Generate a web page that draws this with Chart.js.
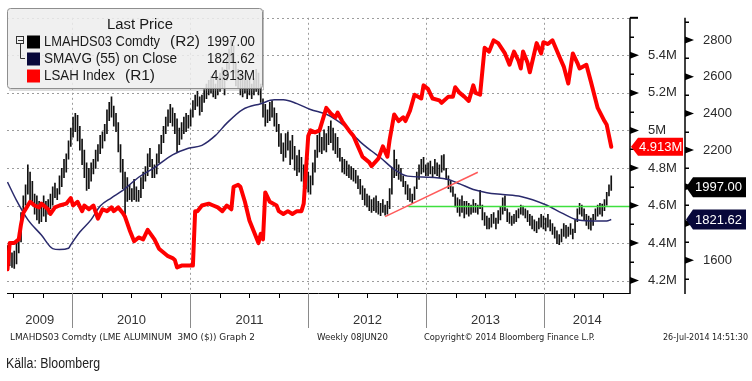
<!DOCTYPE html>
<html><head><meta charset="utf-8">
<script src="https://cdn.jsdelivr.net/npm/chart.js@4.4.0/dist/chart.umd.min.js"></script>
<style>html,body{margin:0;padding:0;background:#fff;overflow:hidden}canvas{display:block}</style>
</head><body>
<canvas id="c" width="752" height="381"></canvas>
<script>
// ---- time axis (weekly bars, first week ~13 Jun 2009, last 26 Jul 2014)
const START_YEAR = 2009.449;
const WEEK = 7 / 365.25;
const X_MIN = 2009.445;
const X_MAX = 2014.725;
const yearLabels = [2009, 2010, 2011, 2012, 2013, 2014];

// ---- LMAHDS03 Comdty weekly high / low (R2, USD/t)
const priceHigh = [
1680,1660,1640,1650,1700,1750,1860,1950,2010,2120,2080,2030,1960,1950,1920,1900,1950,1920,1930,1960,
2000,2020,1990,2060,2100,2150,2180,2250,2320,2380,2400,2390,2330,2260,2200,2130,2100,2130,2150,2200,
2230,2280,2300,2340,2420,2460,2490,2440,2400,2350,2230,2150,2080,2050,2010,1990,2040,2000,1980,2050,
2080,2110,2180,2210,2150,2120,2180,2230,2280,2330,2380,2420,2450,2430,2400,2370,2320,2350,2380,2400,
2390,2420,2470,2500,2520,2490,2500,2530,2560,2580,2600,2590,2560,2600,2620,2650,2640,2700,2750,2800,
2770,2680,2640,2620,2590,2620,2580,2600,2560,2590,2640,2620,2560,2480,2450,2420,2460,2470,2430,2400,
2340,2290,2240,2290,2300,2250,2280,2220,2170,2200,2160,2120,2100,2080,2060,2130,2200,2280,2300,2270,
2310,2290,2330,2360,2320,2290,2270,2210,2160,2150,2140,2120,2110,2100,2090,2060,2040,2005,1990,1960,
1950,1930,1940,1950,1920,1910,1930,1900,1920,1990,2100,2200,2150,2120,2100,2060,2030,2010,1990,1960,
2000,2080,2120,2150,2160,2120,2130,2140,2110,2150,2130,2120,2170,2175,2100,2060,2030,2000,1960,1940,
1930,1950,1920,1920,1910,1900,1930,1910,1900,1980,1900,1860,1840,1830,1850,1860,1830,1870,1890,1940,
1950,1880,1860,1840,1850,1870,1880,1900,1895,1880,1870,1850,1840,1820,1810,1830,1850,1840,1830,1850,
1820,1800,1780,1760,1740,1770,1800,1790,1780,1800,1770,1820,1880,1910,1900,1880,1850,1840,1830,1850,
1880,1900,1910,1905,1930,1970,2010,2060
];
const priceLow = [
1590,1570,1560,1555,1580,1640,1700,1830,1900,1960,1930,1900,1850,1820,1800,1810,1840,1810,1850,1880,
1900,1940,1930,1960,2000,2050,2080,2150,2220,2270,2300,2250,2200,2120,2050,1980,1990,2030,2070,2100,
2140,2180,2210,2250,2290,2360,2380,2330,2300,2190,2080,1990,1850,1920,1930,1920,1930,1920,1920,1940,
1990,2030,2060,2110,2050,2050,2070,2130,2180,2240,2290,2330,2350,2330,2290,2190,2230,2260,2290,2300,
2320,2330,2380,2420,2440,2390,2410,2460,2480,2500,2510,2490,2480,2500,2520,2540,2500,2580,2640,2680,
2620,2550,2540,2500,2490,2510,2480,2500,2480,2500,2520,2500,2460,2380,2330,2350,2360,2380,2330,2300,
2220,2180,2140,2160,2200,2120,2150,2090,2060,2080,2030,2000,1990,1970,1960,2010,2080,2160,2190,2180,
2200,2190,2230,2240,2200,2180,2160,2140,2080,2070,2060,2050,2040,2030,2020,1990,1960,1930,1900,1890,
1870,1860,1870,1860,1850,1842,1860,1845,1850,1880,1960,2050,2060,2040,2030,2000,1960,1930,1920,1910,
1930,1990,2040,2070,2080,2060,2060,2070,2050,2070,2060,2050,2080,2090,2040,1990,1970,1947,1890,1860,
1840,1860,1830,1850,1840,1850,1860,1860,1850,1880,1820,1790,1770,1770,1780,1800,1770,1800,1820,1850,
1870,1810,1800,1790,1800,1810,1830,1850,1845,1830,1810,1790,1770,1760,1750,1770,1780,1770,1760,1780,
1760,1740,1720,1690,1684,1700,1730,1720,1730,1740,1716,1750,1810,1850,1840,1821,1790,1770,1763,1790,
1821,1840,1850,1840,1870,1900,1950,1980
];
const lastClose = 1997.00;

// ---- SMAVG (55) on Close (R2): week index -> value
const maWeek = [0,4,9,15,20,23,27,28,32,37,41,46,51,58,65,73,80,86,92,97,104,112,118,122,128,134,141,145,149,154,156,161,165,171,177,186,194,200,206,212,219,227,238,245,251,258,265,267];
const maVal  = [2026,1926,1821,1737,1663,1658,1665,1684,1753,1821,1895,1940,1980,2052,2105,2174,2210,2226,2280,2347,2421,2453,2474,2474,2453,2421,2395,2368,2332,2270,2245,2195,2158,2095,2058,2052,2042,2016,1985,1968,1958,1947,1902,1858,1823,1814,1814,1821.62];

// ---- LSAH Index (R1, millions): week index -> value
const lsahWeek = [0,1,3,5,6,7,9,10,12,14,15,18,19,21,23,26,28,29,31,33,34,36,38,40,42,44,46,47,49,51,52,54,56,58,60,62,65,67,69,71,73,74,75,77,80,82,83,84,86,89,91,93,95,97,99,100,102,103,105,107,109,111,112,113,114,116,119,120,122,124,126,128,130,131,133,134,136,138,141,143,145,146,148,151,153,155,157,160,161,164,166,168,169,171,173,175,176,178,180,183,184,186,188,191,192,195,197,198,200,202,204,206,207,209,211,213,215,217,220,222,224,226,227,228,230,231,234,236,237,239,241,244,246,248,250,252,253,256,258,261,264,265,267];
const lsahVal  = [4.26,4.40,4.40,4.42,4.50,4.56,4.60,4.62,4.60,4.59,4.61,4.58,4.555,4.59,4.60,4.61,4.64,4.60,4.62,4.57,4.60,4.58,4.60,4.53,4.58,4.57,4.59,4.57,4.59,4.56,4.54,4.47,4.41,4.43,4.42,4.47,4.42,4.37,4.35,4.33,4.32,4.31,4.27,4.28,4.28,4.28,4.57,4.57,4.60,4.61,4.60,4.59,4.57,4.60,4.58,4.70,4.71,4.70,4.62,4.52,4.46,4.40,4.45,4.42,4.67,4.62,4.60,4.57,4.555,4.57,4.555,4.57,4.57,4.61,4.97,5.00,4.99,5.00,5.12,5.09,5.07,5.095,5.05,5.00,4.97,4.915,4.86,4.83,4.81,4.85,4.915,4.86,4.95,5.085,5.05,5.07,5.05,5.105,5.19,5.17,5.24,5.22,5.17,5.16,5.147,5.18,5.18,5.23,5.20,5.18,5.157,5.24,5.20,5.19,5.44,5.42,5.48,5.465,5.41,5.35,5.42,5.37,5.33,5.42,5.36,5.31,5.465,5.41,5.47,5.46,5.48,5.395,5.34,5.25,5.41,5.36,5.33,5.35,5.26,5.12,5.05,5.03,4.913];

// ---- drawn trend lines (R2)
const trendWeek = [167, 208];
const trendVal  = [1837, 2079];
const supportFromWeek = 177.4;
const supportVal = 1893;

// ---- axis ticks
const r1Major = [4.2,4.4,4.6,4.8,5.0,5.2,5.4,5.6];
const r1Minor = [4.3,4.5,4.7,4.9,5.1,5.3,5.5];
const r1Labels = {"4.2":"4.2M","4.4":"4.4M","4.6":"4.6M","4.8":"4.8M","5":"5M","5.2":"5.2M","5.4":"5.4M"};
const r2Major = [1600,1800,2000,2200,2400,2600,2800];
const r2Minor = [1500,1700,1900,2100,2300,2500,2700,2900];
const r2Labels = {"1600":"1600","2200":"2200","2400":"2400","2600":"2600","2800":"2800"};

const wk = w => START_YEAR + w * WEEK;
const FONT = '"Liberation Sans", Arial, sans-serif';

function drawFit(ctx, text, x, y, w, font, color, align) {
  ctx.save();
  ctx.font = font; ctx.fillStyle = color; ctx.textBaseline = 'middle'; ctx.textAlign = 'left';
  const nat = ctx.measureText(text).width;
  const s = w / nat;
  const x0 = align === 'right' ? x - w : (align === 'center' ? x - w / 2 : x);
  ctx.translate(x0, y); ctx.scale(s, 1);
  ctx.fillText(text, 0, 0);
  ctx.restore();
}
function tag(ctx, x0, y, w, h, fill, text, tx) {
  ctx.save();
  ctx.beginPath();
  ctx.moveTo(x0, y); ctx.lineTo(x0 + 7, y - h / 2); ctx.lineTo(x0 + w, y - h / 2);
  ctx.lineTo(x0 + w, y + h / 2); ctx.lineTo(x0 + 7, y + h / 2); ctx.closePath();
  ctx.fillStyle = fill; ctx.fill();
  ctx.fillStyle = '#fff'; ctx.font = '13px ' + FONT; ctx.textBaseline = 'middle'; ctx.textAlign = 'left';
  ctx.fillText(text, tx, y + 0.5);
  ctx.restore();
}

const overlay = {
  id: 'overlay',
  beforeDatasetsDraw(chart) {
    const { ctx, chartArea: a, scales: { x, y1 } } = chart;
    ctx.save();
    ctx.strokeStyle = '#9c9c9c'; ctx.lineWidth = 1; ctx.setLineDash([2, 3]);
    r1Major.forEach(v => {
      const y = Math.round(y1.getPixelForValue(v)) + 0.5;
      ctx.beginPath(); ctx.moveTo(a.left, y); ctx.lineTo(a.right, y); ctx.stroke();
    });
    yearLabels.slice(1).forEach(yr => {
      const px = Math.round(x.getPixelForValue(yr)) + 0.5;
      ctx.beginPath(); ctx.moveTo(px, a.top); ctx.lineTo(px, a.bottom); ctx.stroke();
    });
    ctx.restore();
  },
  afterDatasetsDraw(chart) {
    const { ctx, chartArea: a, scales: { x, y1, y2 } } = chart;
    ctx.save();
    // bottom axis
    ctx.strokeStyle = '#000'; ctx.lineWidth = 1;
    ctx.beginPath(); ctx.moveTo(a.left, a.bottom + 0.5); ctx.lineTo(a.right, a.bottom + 0.5); ctx.stroke();
    for (let q = 2009.5; q <= 2014.75; q += 0.25) {
      const px = Math.round(x.getPixelForValue(q)) + 0.5;
      if (px < a.left || px > a.right) continue;
      if (Math.abs(q - Math.round(q)) < 1e-6) {
        ctx.strokeStyle = '#8a8a8a';
        ctx.beginPath(); ctx.moveTo(px, a.bottom); ctx.lineTo(px, a.bottom + 35); ctx.stroke();
      } else {
        ctx.strokeStyle = '#000';
        ctx.beginPath(); ctx.moveTo(px, a.bottom); ctx.lineTo(px, a.bottom + 5); ctx.stroke();
      }
    }
    // year labels
    ctx.fillStyle = '#333'; ctx.font = '13px ' + FONT; ctx.textAlign = 'center'; ctx.textBaseline = 'middle';
    yearLabels.forEach(yr => {
      const l = Math.max(a.left, x.getPixelForValue(yr));
      const r = Math.min(a.right, x.getPixelForValue(yr + 1));
      ctx.fillText(String(yr), (l + r) / 2, 320);
    });
    // R1 axis
    ctx.strokeStyle = '#000'; ctx.fillStyle = '#000'; ctx.lineWidth = 1.5;
    const rx = a.right;
    ctx.beginPath(); ctx.moveTo(rx, a.top); ctx.lineTo(rx, a.bottom + 1); ctx.stroke();
    ctx.lineWidth = 1;
    r1Major.forEach(v => {
      const y = y1.getPixelForValue(v);
      if (v >= 5.59) { ctx.fillRect(rx, y - 1, 8, 2); return; }
      ctx.beginPath(); ctx.moveTo(rx, y - 3.5); ctx.lineTo(rx + 9, y); ctx.lineTo(rx, y + 3.5); ctx.closePath(); ctx.fill();
    });
    r1Minor.forEach(v => { const y = Math.round(y1.getPixelForValue(v)); ctx.fillRect(rx, y - 0.5, 4, 1.5); });
    // R2 axis
    const r2x = y2.left;
    ctx.lineWidth = 1.5;
    ctx.beginPath(); ctx.moveTo(r2x, a.top); ctx.lineTo(r2x, a.bottom + 1); ctx.stroke();
    r2Major.forEach(v => {
      const y = y2.getPixelForValue(v);
      ctx.beginPath(); ctx.moveTo(r2x, y - 3.5); ctx.lineTo(r2x + 9, y); ctx.lineTo(r2x, y + 3.5); ctx.closePath(); ctx.fill();
    });
    r2Minor.forEach(v => { const y = Math.round(y2.getPixelForValue(v)); ctx.fillRect(r2x, y - 0.5, 4, 1.5); });
    // value tags
    const lastL = lsahVal[lsahVal.length - 1];
    const lastM = maVal[maVal.length - 1];
    tag(ctx, rx + 1, y1.getPixelForValue(lastL), 52, 18, '#ff0000', lastL.toFixed(3) + 'M', rx + 9);
    tag(ctx, r2x + 1, y2.getPixelForValue(lastClose), 60, 20, '#000000', lastClose.toFixed(2), r2x + 10);
    tag(ctx, r2x + 1, y2.getPixelForValue(lastM), 60, 20, '#08083a', lastM.toFixed(2), r2x + 10);

    // legend
    ctx.beginPath(); ctx.roundRect(7.5, 8.5, 255, 80, 3);
    ctx.fillStyle = 'rgba(238,238,238,0.86)'; ctx.fill();
    ctx.strokeStyle = '#8e8e8e'; ctx.lineWidth = 1; ctx.stroke();
    ctx.strokeStyle = 'rgba(120,120,120,0.5)';
    ctx.beginPath(); ctx.moveTo(9, 90); ctx.lineTo(263.5, 90); ctx.lineTo(263.5, 10); ctx.stroke();
    const lf = '14px ' + FONT, lc = '#1a1a1a';
    drawFit(ctx, 'Last Price', 140, 25, 66, lf, lc, 'center');
    const rows = [
      { y: 42, c: '#000000', t: 'LMAHDS03 Comdty', tw: 116, ax: '(R2)', v: lastClose.toFixed(2), vw: 48 },
      { y: 59, c: '#08083a', t: 'SMAVG (55) on Close', tw: 133, ax: null, v: lastM.toFixed(2), vw: 48 },
      { y: 76, c: '#ff0000', t: 'LSAH Index', tw: 71, ax: '(R1)', v: lastL.toFixed(3) + 'M', vw: 44 }
    ];
    rows.forEach(r => {
      ctx.fillStyle = r.c; ctx.fillRect(27, r.y - 6.5, 13, 13);
      drawFit(ctx, r.t, 44, r.y, r.tw, lf, lc, 'left');
      if (r.ax) drawFit(ctx, r.ax, r.ax === '(R2)' ? 170 : 125, r.y, 30, lf, lc, 'left');
      drawFit(ctx, r.v, 255, r.y, r.vw, lf, lc, 'right');
    });
    // tree icon
    ctx.strokeStyle = '#333'; ctx.lineWidth = 1;
    ctx.strokeRect(16.5, 36.5, 7, 7);
    ctx.beginPath(); ctx.moveTo(18, 40.5); ctx.lineTo(23, 40.5); ctx.stroke();
    ctx.beginPath(); ctx.moveTo(20.5, 44); ctx.lineTo(20.5, 58.5); ctx.lineTo(25, 58.5); ctx.stroke();

    // footer
    const ff = '9px "DejaVu Sans", sans-serif', fc = '#222';
    drawFit(ctx, 'LMAHDS03 Comdty (LME ALUMINUM  3MO ($)) Graph 2', 10, 338, 245, ff, fc, 'left');
    drawFit(ctx, 'Weekly 08JUN20', 317, 338, 71, ff, fc, 'left');
    drawFit(ctx, 'Copyright\u00a9 2014 Bloomberg Finance L.P.', 424, 338, 171, ff, fc, 'left');
    drawFit(ctx, '26-Jul-2014 14:51:30', 663, 338, 85, ff, fc, 'left');
    drawFit(ctx, 'K\u00e4lla: Bloomberg', 6, 364, 94, '14px "Liberation Sans Narrow", "Liberation Sans", Arial, sans-serif', '#222', 'left');
    ctx.restore();
  }
};

const ctx = document.getElementById('c').getContext('2d');
new Chart(ctx, {
  type: 'bar',
  data: {
    datasets: [
      { type: 'line', label: 'LSAH Index', yAxisID: 'y1', order: 1,
        data: lsahWeek.map((w, i) => ({ x: wk(w), y: lsahVal[i] })),
        borderColor: '#ff0000', borderWidth: 4, pointRadius: 0, borderJoinStyle: 'round', borderCapStyle: 'round', tension: 0 },
      { type: 'line', label: 'trend', yAxisID: 'y2', order: 2,
        data: trendWeek.map((w, i) => ({ x: wk(w), y: trendVal[i] })),
        borderColor: '#ff5a5a', borderWidth: 1.5, pointRadius: 0 },
      { type: 'line', label: 'support', yAxisID: 'y2', order: 2,
        data: [{ x: wk(supportFromWeek), y: supportVal }, { x: X_MAX, y: supportVal }],
        borderColor: '#3fe03f', borderWidth: 1.5, pointRadius: 0 },
      { type: 'line', label: 'SMAVG (55)', yAxisID: 'y2', order: 3,
        data: maWeek.map((w, i) => ({ x: wk(w), y: maVal[i] })),
        borderColor: '#2a2a6c', borderWidth: 1.5, pointRadius: 0, cubicInterpolationMode: 'monotone' },
      { type: 'bar', label: 'LMAHDS03', yAxisID: 'y2', order: 5,
        data: priceHigh.map((h, i) => ({ x: wk(i), y: [priceLow[i], h] })),
        backgroundColor: '#111', borderWidth: 0, barThickness: 1 }
    ]
  },
  options: {
    responsive: false, animation: false, devicePixelRatio: 1,
    layout: { padding: { left: 7, top: 8, right: 0, bottom: 88 } },
    plugins: { legend: { display: false }, tooltip: { enabled: false } },
    scales: {
      x: { type: 'linear', display: false, min: X_MIN, max: X_MAX, offset: false },
      y1: {
        type: 'linear', position: 'right', weight: 0, min: 4.134, max: 5.6,
        grid: { display: false }, border: { display: false },
        afterBuildTicks: s => { s.ticks = r1Major.map(v => ({ value: v })); },
        afterFit: s => { s.width = 55; },
        ticks: { padding: 10, color: '#2a2a2a', font: { family: FONT, size: 13 },
          callback: v => r1Labels[String(Math.round(v * 10) / 10)] || '' }
      },
      y2: {
        type: 'linear', position: 'right', weight: 1, min: 1421, max: 2921,
        grid: { display: false }, border: { display: false },
        afterBuildTicks: s => { s.ticks = r2Major.map(v => ({ value: v })); },
        afterFit: s => { s.width = 67; },
        ticks: { padding: 10, color: '#2a2a2a', font: { family: FONT, size: 13 },
          callback: v => r2Labels[String(v)] || '' }
      }
    }
  },
  plugins: [overlay]
});
</script>
</body></html>
